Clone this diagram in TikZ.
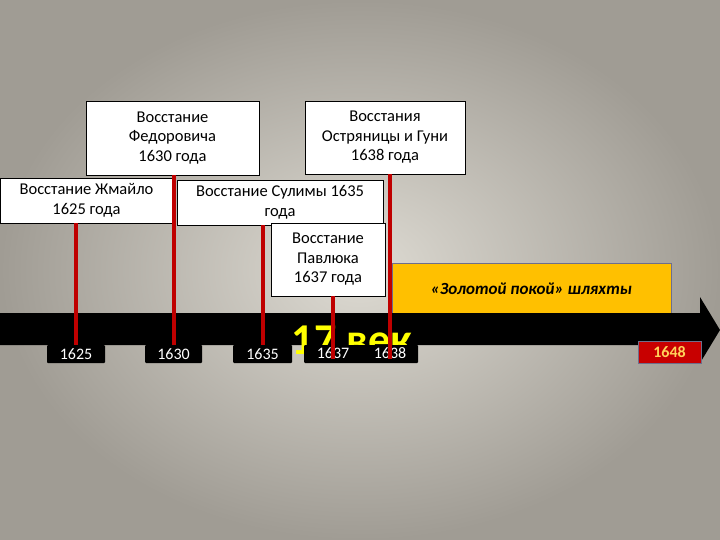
\documentclass[tikz,border=0pt]{standalone}
\usepackage{fontspec}
\setmainfont{Carlito}
\begin{document}
\begin{tikzpicture}[x=1pt,y=-1pt,
 ev/.style={draw=black,fill=white,line width=0.8pt,align=center,font=\fontsize{16.5}{19.5}\selectfont,inner sep=0pt},
 yr/.style={fill=black,text=white,font=\fontsize{16}{16}\selectfont,inner sep=0pt,minimum height=18pt,rounded corners=1pt},
 rl/.style={draw=red!75!black,line width=4pt}]
\shade[inner color={rgb,255:red,222;green,219;blue,211},outer color={rgb,255:red,160;green,156;blue,148}] (0,0) rectangle (720,540);
\useasboundingbox (0,0) rectangle (720,540);
% boxes
\node[ev,minimum width=173pt,minimum height=74pt] (fed) at (172.5,138) {Восстание\\Федоровича\\1630 года};
\node[ev,minimum width=160pt,minimum height=73pt] (ost) at (385,137.5) {Восстания\\Остряницы и Гуни\\1638 года};
\node[ev,minimum width=173pt,minimum height=45pt] (zh) at (86.5,200.5) {Восстание Жмайло\\1625 года};
\node[ev,minimum width=206pt,minimum height=45pt] (sul) at (280,202.5) {Восстание Сулимы 1635\\года};
\node[ev,minimum width=114pt,minimum height=73pt] (pav) at (328,259.5) {Восстание\\Павлюка\\1637 года};
\node[draw={rgb,255:red,110;green,110;blue,140},fill={rgb,255:red,255;green,192;blue,0},minimum width=279pt,minimum height=51pt,font=\fontsize{17}{19}\selectfont\bfseries\itshape] (gold) at (531.5,288.5) {«Золотой покой» шляхты};
% arrow
\fill[black] (0,313) -- (700,313) -- (700,297) -- (720,330) -- (700,363) -- (700,345) -- (0,345) -- cycle;
\node[text={rgb,255:red,255;green,255;blue,0},font=\fontsize{44}{44}\selectfont\bfseries,inner sep=0pt,anchor=base] (vek) at (352,354) {17 век};
% year labels
\node[yr,minimum width=58pt] (y25) at (76,354) {1625};
\node[yr,minimum width=57pt] (y30) at (173.5,354) {1630};
\node[yr,minimum width=59pt] (y35) at (262.5,354) {1635};
\node[yr,minimum width=114pt] (y378) at (361,354) {};
\node[text=white,font=\fontsize{16}{16}\selectfont,inner sep=0pt] (y37) at (333,353) {1637};
\node[text=white,font=\fontsize{16}{16}\selectfont,inner sep=0pt] (y38) at (390,353) {1638};
\node[fill={rgb,255:red,200;green,0;blue,0},draw={rgb,255:red,110;green,110;blue,140},text={rgb,255:red,255;green,210;blue,90},font=\fontsize{16}{16}\selectfont\bfseries,minimum width=63pt,minimum height=22pt,inner sep=0pt] (y48) at (669.5,352) {1648};
% red lines
\draw[rl] (zh.south -| y25.north) -- (y25.north);
\draw[rl] (fed.south -| y30.north) -- (y30.north);
\draw[rl] (sul.south -| y35.north) -- (y35.north);
\draw[rl] (pav.south -| y37.north) -- (y37.south);
\draw[rl] (ost.south -| y38.north) -- (y38.south);
\end{tikzpicture}
\end{document}
